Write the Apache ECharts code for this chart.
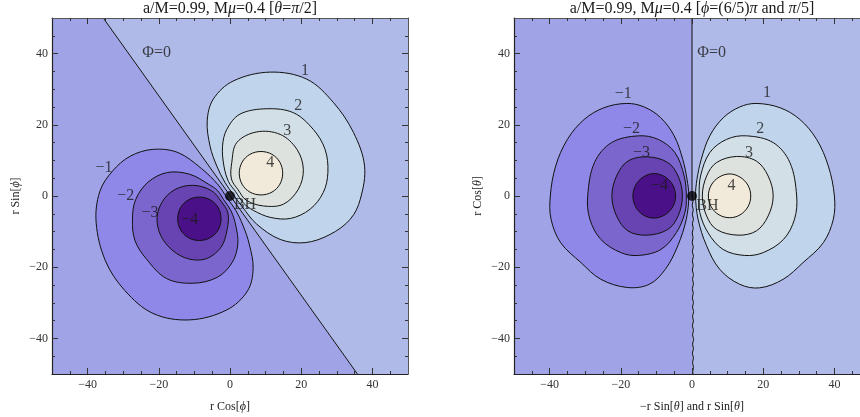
<!DOCTYPE html>
<html><head><meta charset="utf-8">
<script src="https://cdn.jsdelivr.net/npm/echarts@6/dist/echarts.min.js"></script>
<style>html,body{margin:0;padding:0;background:#fff}#c{width:860px;height:417px}</style>
</head><body><div id="c"></div>
<script>
// ---- tick values ----
const majorTicks = [-40, -20, 0, 20, 40];
const minorTicks = [-45,-40,-35,-30,-25,-20,-15,-10,-5,0,5,10,15,20,25,30,35,40,45];

// ---- colours of contour levels ----
const bgColors  = ['#a0a4e7', '#b0bae9'];
const posColors = ['#c0d5eb', '#d3dfe6', '#dde2de', '#f1e9d9'];
const negColors = ['#8f88e8', '#7b66cd', '#6843b2', '#4a1087'];

// ---- left panel (theta = pi/2) ----
const leftBgA = [[-50,50],[-35.6,50],[35.8,-50],[-50,-50]];
const leftBgB = [[-35.6,50],[50,50],[50,-50],[35.8,-50]];
const leftPhi = [[-35.6,50],[35.8,-50]];

const leftPos1 = [[0.8,0.6],[-1.4,3.8],[-3.7,8.4],[-5.6,14],[-6.4,21.1],[-4.7,27.2],[0.9,32.3],[11.3,34.8],[21.6,32.8],[29.1,26.2],[34.7,17.8],[37.8,8.4],[36.6,-0.9],[33.8,-6.5],[28.1,-10.8],[21.1,-13.1],[14.1,-12.2],[7.5,-7.9],[3.5,-3.1]];
const leftPos2 = [[1.6,1.2],[-0.4,4.0],[-1.7,8.4],[-2.1,14],[-0.9,18.7],[2.8,23],[10.3,24.5],[17.8,23.4],[23.4,18.7],[26.7,13.1],[27.5,6.6],[26.2,1],[22.5,-3.7],[17,-6.3],[11.3,-6],[6.5,-4],[3.8,-2.0]];
const leftPos3 = [[2.3,1.7],[0.4,4.8],[0.5,9.4],[1.9,15],[7.5,18],[14.1,17.3],[18.8,13.1],[20.6,7.5],[19.2,1.9],[15,-2.3],[9.4,-2.8],[4.6,-1.2]];
const leftPos4 = [[14.8,6.4],[14,9.5],[11.8,11.7],[8.7,12.5],[5.6,11.7],[3.4,9.5],[2.6,6.4],[3.4,3.3],[5.6,1.1],[8.7,0.3],[11.8,1.1],[14,3.3]];

const leftNeg1 = [[-0.8,-0.6],[1.6,-4],[3.7,-8.4],[5.4,-13.5],[6.5,-20.4],[4.9,-26.7],[-0.9,-32],[-11.3,-34.8],[-21.6,-33],[-29.5,-26.6],[-35,-18.2],[-37.6,-7.5],[-36.6,1.2],[-33,7],[-28,11.2],[-21.6,13.1],[-14.6,12.2],[-8,7.7],[-3.3,3.1]];
const leftNeg2 = [[-1.8,-1.0],[0.3,-4.2],[1.6,-8.2],[2.2,-13.5],[0.6,-18.7],[-3.5,-22.8],[-10.3,-24.5],[-17.8,-23.2],[-23.4,-17.8],[-26.7,-12.5],[-27.4,-6.5],[-26.5,-1],[-23,3.9],[-17.6,6.6],[-11.3,6.1],[-6,3.3],[-3.6,1.6]];
const leftNeg3 = [[-2.5,-1.5],[-0.6,-4.7],[-0.8,-9.4],[-2.6,-14.5],[-7.3,-17.8],[-13.5,-17],[-18.6,-12.6],[-20.5,-7],[-19.2,-1.9],[-15.5,1.8],[-10.3,3],[-5.2,1.5]];
const leftNeg4 = [[-2.5,-6.4],[-3.3,-3.3],[-5.5,-1.1],[-8.6,-0.3],[-11.7,-1.1],[-13.9,-3.3],[-14.7,-6.4],[-13.9,-9.5],[-11.7,-11.7],[-8.6,-12.5],[-5.5,-11.7],[-3.3,-9.5]];

const leftLabels = [['Φ=0',-20.6,40.3],['1',21.1,35.1],['2',19.2,25.3],['3',16.1,18.3],['4',11.3,9.4],['−1',-35.4,8],['−2',-29.3,0],['−3',-22.5,-4.7],['−4',-11.3,-6.7]];
const leftBH = [1.1,-2.4];

// ---- right panel (phi = 6pi/5 and pi/5) ----
const rightBgA = [[-50,50],[0,50],[0,-50],[-50,-50]];
const rightBgB = [[0,50],[50,50],[50,-50],[0,-50]];
const rightPhiUpper = [[0,50],[0,0]];
const rightPhiLower = [[0.1,0],[0.3,-1.3],[0.05,-2.6],[0.35,-3.9],[0.1,-5.2],[0.4,-6.5],[0.1,-7.8],[0.35,-9.1],[0.05,-10.4],[0.3,-11.7],[0.05,-13],[0.35,-14.3],[0.1,-15.6],[0.4,-16.9],[0.1,-18.2],[0.35,-19.5],[0.1,-20.8],[0.4,-22.1],[0.15,-23.4],[0.4,-24.7],[0.1,-26],[0.35,-27.3],[0.1,-28.6],[0.4,-29.9],[0.15,-31.2],[0.45,-32.5],[0.15,-33.8],[0.4,-35.1],[0.1,-36.4],[0.4,-37.7],[0.15,-39],[0.45,-40.3],[0.15,-41.6],[0.4,-42.9],[0.1,-44.2],[0.4,-45.5],[0.15,-46.8],[0.4,-48.1],[0.2,-49.4],[0.3,-50]];

const rightPos1 = [[1.0,0],[1.4,4.7],[2.6,10.3],[5,16.9],[8.8,22],[13.4,25],[18,26],[24.7,24.8],[30.3,21.5],[35,15.9],[38.3,8.4],[40,0],[39.7,-6.5],[36.9,-13.1],[31.2,-18.7],[25.6,-23.4],[19,-25.8],[13.4,-24.8],[7.8,-20.6],[4.1,-14],[1.7,-6.5]];
const rightPos2 = [[2.0,0],[2.4,5.6],[5,12.2],[9.7,15.9],[15.3,16.9],[22.8,15],[27.5,9.4],[29.4,0],[28.8,-6.5],[25.7,-12.2],[20,-15.9],[14.8,-16.7],[8.7,-15],[4.5,-10.3],[2.2,-4.7]];
const rightPos3 = [[2.9,0],[4.1,5.6],[6.9,9.4],[12.5,11.1],[18.1,9.8],[21.4,5.6],[22.8,0],[21.4,-5.6],[18.1,-9.8],[12.9,-11],[6.9,-9.4],[4.1,-5.6]];
const rightPos4 = [[16.5,0],[15.7,3.05],[13.5,5.3],[10.6,6.2],[7.6,5.3],[5.4,3.05],[4.6,0],[5.4,-3.05],[7.6,-5.3],[10.6,-6.1],[13.5,-5.3],[15.7,-3.05]];

const rightNeg1 = [[-0.9,0],[-1.4,4.7],[-2.6,10.3],[-5,16.9],[-8.8,22],[-13.4,25],[-18.3,26],[-24.7,24.8],[-30.3,21.5],[-35,15.9],[-38.3,8.4],[-39.8,0],[-39.6,-6.5],[-36.9,-13.1],[-31.2,-18.7],[-25.6,-23.4],[-18.2,-25.7],[-12,-24.8],[-7.5,-20.6],[-4,-14],[-1.6,-6.5]];
const rightNeg2 = [[-1.6,0],[-2.2,5.6],[-4.8,12.2],[-9.5,15.9],[-15,16.9],[-22.6,15],[-27.4,9.4],[-29.3,0],[-28.7,-6.5],[-25.6,-12.2],[-20,-15.9],[-15,-16.7],[-8.7,-15],[-4.4,-10.3],[-2.0,-4.7]];
const rightNeg3 = [[-2.7,0],[-3.9,5.6],[-6.8,9.4],[-12.5,11],[-18,9.8],[-21.2,5.6],[-22.5,0],[-21.2,-5.6],[-18,-9.8],[-12.7,-11],[-6.8,-9.4],[-3.9,-5.6]];
const rightNeg4 = [[-4.6,0],[-5.4,3.1],[-7.6,5.4],[-10.6,6.3],[-13.6,5.4],[-15.8,3.1],[-16.6,0],[-15.8,-3.1],[-13.6,-5.4],[-10.6,-6.2],[-7.6,-5.3],[-5.4,-3.05]];

const rightLabels = [['Φ=0',5.5,40.3],['−1',-19.3,28.8],['−2',-17,19],['−3',-14.2,12.2],['−4',-9.1,2.8],['1',21.1,29],['2',19.2,19],['3',16,12.2],['4',11.1,3]];
const rightBH = [1.2,-2.8];

// ---- chart ----
const SERIF = 'Liberation Serif';
const fmt = v => v < 0 ? '\u2212' + Math.abs(v) : String(v);
const nameStyle = {fontFamily: SERIF, fontSize: 12, color: '#222', rich: {i: {fontFamily: SERIF, fontSize: 12, fontStyle: 'italic', color: '#222'}}};
const tickMinor = {show: true, inside: true, length: 3, customValues: minorTicks, lineStyle: {color: '#333', width: 1}};
const tickMajor = {show: true, inside: true, length: 6, customValues: majorTicks, lineStyle: {color: '#333', width: 1}};

function axesFor(g, name, isX) {
  const base = {type: 'value', gridIndex: g, min: -50, max: 50, interval: 5, splitLine: {show: false}, scale: false, z: 20};
  const p1 = isX ? 'bottom' : 'left', p2 = isX ? 'top' : 'right';
  return [
    Object.assign({}, base, {position: p1, axisLine: {show: true, onZero: false, lineStyle: {color: '#222', width: 1.2}}, axisTick: tickMinor, axisLabel: {show: false}}),
    Object.assign({}, base, {position: p1, axisLine: {show: false, onZero: false}, axisTick: tickMajor,
      axisLabel: {show: true, customValues: majorTicks, formatter: fmt, fontFamily: SERIF, fontSize: 12, color: '#333', margin: isX ? 5 : 4},
      name: name, nameLocation: 'middle', nameGap: isX ? 27 : 30, nameTextStyle: nameStyle}),
    Object.assign({}, base, {position: p2, axisLine: {show: true, onZero: false, lineStyle: {color: '#555', width: 1}}, axisTick: tickMinor, axisLabel: {show: false}}),
    Object.assign({}, base, {position: p2, axisLine: {show: false, onZero: false}, axisTick: tickMajor, axisLabel: {show: false}})
  ];
}

function poly(g, pts, color, stroke, z) {
  return {
    type: 'custom', coordinateSystem: 'cartesian2d', xAxisIndex: g * 4, yAxisIndex: g * 4,
    data: pts, clip: true, silent: true, z: z,
    renderItem: function (params, api) {
      if (params.dataIndex !== 0) return null;
      const p = pts.map(d => api.coord(d));
      return {type: 'polygon', shape: {points: p, smooth: stroke ? 0.35 : 0},
        style: {fill: color, stroke: stroke ? '#111' : null, lineWidth: stroke ? 1 : 0}};
    }
  };
}
function line(g, pts) {
  return {type: 'line', xAxisIndex: g * 4, yAxisIndex: g * 4, data: pts, showSymbol: false, symbol: 'none',
    lineStyle: {color: '#111', width: 1}, silent: true, z: 5, clip: true};
}
function labels(g, list, bh) {
  const data = list.map(l => ({value: [l[1], l[2]], name: l[0]}));
  data.push({value: bh, name: 'BH', label: {align: 'left'}});
  return {type: 'scatter', xAxisIndex: g * 4, yAxisIndex: g * 4, data: data, symbolSize: 0, silent: true, z: 10,
    label: {show: true, position: 'inside', formatter: '{b}', fontFamily: SERIF, fontSize: 16, color: '#1a1a1a'}};
}
function dot(g) {
  return {type: 'scatter', xAxisIndex: g * 4, yAxisIndex: g * 4, data: [[0, 0]], symbolSize: 10,
    itemStyle: {color: '#000'}, silent: true, z: 9};
}

const series = [
  poly(0, leftBgA, bgColors[0], false, 1), poly(0, leftBgB, bgColors[1], false, 1),
  poly(0, leftPos1, posColors[0], true, 2), poly(0, leftPos2, posColors[1], true, 2),
  poly(0, leftPos3, posColors[2], true, 2), poly(0, leftPos4, posColors[3], true, 2),
  poly(0, leftNeg1, negColors[0], true, 2), poly(0, leftNeg2, negColors[1], true, 2),
  poly(0, leftNeg3, negColors[2], true, 2), poly(0, leftNeg4, negColors[3], true, 2),
  line(0, leftPhi), dot(0), labels(0, leftLabels, leftBH),

  poly(1, rightBgA, bgColors[0], false, 1), poly(1, rightBgB, bgColors[1], false, 1),
  poly(1, rightPos1, posColors[0], true, 2), poly(1, rightPos2, posColors[1], true, 2),
  poly(1, rightPos3, posColors[2], true, 2), poly(1, rightPos4, posColors[3], true, 2),
  poly(1, rightNeg1, negColors[0], true, 2), poly(1, rightNeg2, negColors[1], true, 2),
  poly(1, rightNeg3, negColors[2], true, 2), poly(1, rightNeg4, negColors[3], true, 2),
  line(1, rightPhiUpper), line(1, rightPhiLower), dot(1), labels(1, rightLabels, rightBH)
];

const titleStyle = {fontFamily: SERIF, fontSize: 16, fontWeight: 'normal', color: '#1a1a1a',
  rich: {i: {fontFamily: SERIF, fontSize: 16, fontStyle: 'italic', color: '#1a1a1a'}}};

const chart = echarts.init(document.getElementById('c'));
chart.setOption({
  animation: false,
  backgroundColor: '#fff',
  title: [
    {text: 'a/M=0.99, M{i|μ}=0.4 [{i|θ}={i|π}/2]', left: 230, textAlign: 'center', top: 1, padding: 0, textStyle: titleStyle},
    {text: 'a/M=0.99, M{i|μ}=0.4 [{i|ϕ}=(6/5){i|π} and {i|π}/5]', left: 692, textAlign: 'center', top: 1, padding: 0, textStyle: titleStyle}
  ],
  grid: [
    {left: 52, top: 18, width: 356, height: 356, containLabel: false, outerBoundsMode: 'none'},
    {left: 514, top: 18, width: 356, height: 356, containLabel: false, outerBoundsMode: 'none'}
  ],
  xAxis: [].concat(axesFor(0, 'r Cos[{i|ϕ}]', true), axesFor(1, '\u2212r Sin[{i|θ}] and r Sin[{i|θ}]', true)),
  yAxis: [].concat(axesFor(0, 'r Sin[{i|ϕ}]', false), axesFor(1, 'r Cos[{i|θ}]', false)),
  series: series
});
</script></body></html>
